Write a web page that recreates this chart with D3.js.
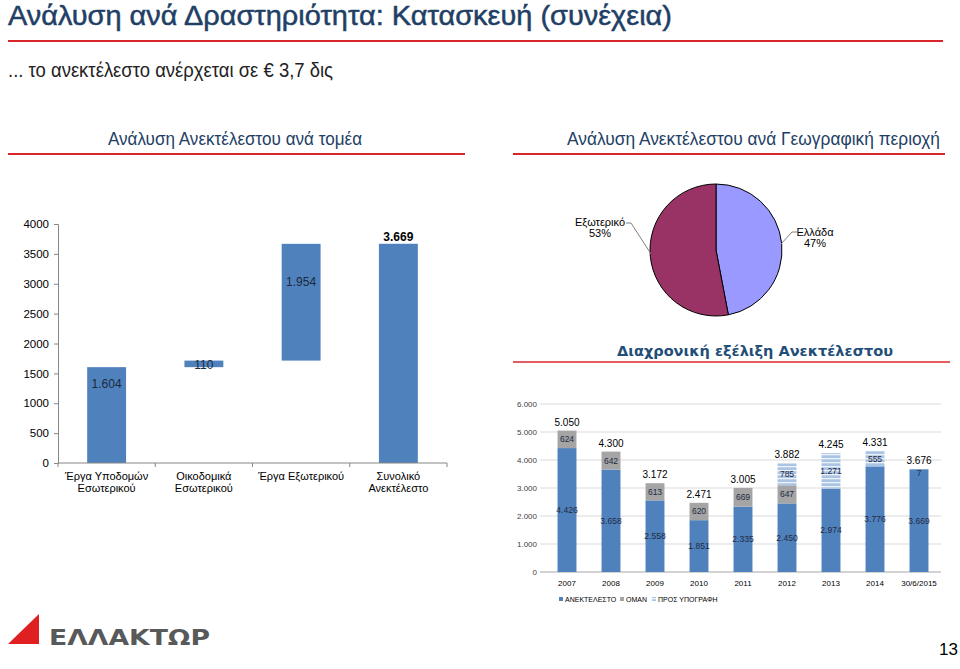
<!DOCTYPE html>
<html><head><meta charset="utf-8">
<script src="https://cdn.jsdelivr.net/npm/d3@7"></script>
<style>body{margin:0;background:#fff}svg{display:block}</style>
</head><body>
<svg id="c" width="960" height="669"></svg>
<script>
// ---- Waterfall data ----
const wfCategories = [["Έργα Υποδομών","Εσωτερικού"],["Οικοδομικά","Εσωτερικού"],["Έργα Εξωτερικού"],["Συνολικό","Ανεκτέλεστο"]];
const wfValues = [1604, 110, 1954, 3669];
const wfLabels = ["1.604","110","1.954","3.669"];
const wfTicks = [0,500,1000,1500,2000,2500,3000,3500,4000];

// ---- Pie data ----
const pieNames = ["Ελλάδα","Εξωτερικό"];
const pieValues = [47, 53];

// ---- Stacked data ----
const years = ["2007","2008","2009","2010","2011","2012","2013","2014","30/6/2015"];
const backlog = [4426,3658,2558,1851,2335,2450,2974,3776,3669];
const oman = [624,642,613,620,669,647,0,0,0];
const toSign = [0,0,0,0,0,785,1271,555,7];
const totals = ["5.050","4.300","3.172","2.471","3.005","3.882","4.245","4.331","3.676"];
const backlogLbl = ["4.426","3.658","2.558","1.851","2.335","2.450","2.974","3.776","3.669"];
const omanLbl = ["624","642","613","620","669","647","","",""];
const signLbl = ["","","","","","785","1.271","555","7"];
const stTicks = [0,1000,2000,3000,4000,5000,6000];
const legendNames = ["ΑΝΕΚΤΕΛΕΣΤΟ","ΟΜΑΝ","ΠΡΟΣ ΥΠΟΓΡΑΦΗ"];

const svg = d3.select("#c");
const navy = "#1F3F66", red = "#D9262B";
const blue = "#4F81BD";

// pattern
const defs = svg.append("defs");
const pat = defs.append("pattern").attr("id","stripe").attr("width",4).attr("height",4).attr("patternUnits","userSpaceOnUse");
pat.append("rect").attr("width",4).attr("height",4).attr("fill","#A9C4E4");
pat.append("rect").attr("y",2).attr("width",4).attr("height",1.3).attr("fill","#EEF3FA");

// ---- Titles ----
svg.append("text").attr("x",8).attr("y",25).attr("font-family","Liberation Sans Narrow, Liberation Sans, Arial").attr("font-size",28)
  .attr("fill",navy).attr("stroke",navy).attr("stroke-width",0.5).attr("textLength",664).attr("lengthAdjust","spacingAndGlyphs").text("Ανάλυση ανά Δραστηριότητα: Κατασκευή (συνέχεια)");
svg.append("line").attr("x1",8).attr("x2",943).attr("y1",41).attr("y2",41).attr("stroke",red).attr("stroke-width",2);
svg.append("text").attr("x",8).attr("y",77).attr("font-family","Liberation Sans Narrow, Liberation Sans, Arial").attr("font-size",20)
  .attr("fill","#222").attr("textLength",325).attr("lengthAdjust","spacingAndGlyphs").text("... το ανεκτέλεστο ανέρχεται σε € 3,7 δις");
svg.append("text").attr("x",108).attr("y",145).attr("font-family","Liberation Sans Narrow, Liberation Sans, Arial").attr("font-size",18)
  .attr("fill",navy).attr("textLength",254).attr("lengthAdjust","spacingAndGlyphs").text("Ανάλυση Ανεκτέλεστου ανά τομέα");
svg.append("line").attr("x1",8).attr("x2",465).attr("y1",154).attr("y2",154).attr("stroke",red).attr("stroke-width",2);
svg.append("text").attr("x",567).attr("y",145).attr("font-family","Liberation Sans Narrow, Liberation Sans, Arial").attr("font-size",18)
  .attr("fill",navy).attr("textLength",373).attr("lengthAdjust","spacingAndGlyphs").text("Ανάλυση Ανεκτέλεστου ανά Γεωγραφική περιοχή");
svg.append("line").attr("x1",513).attr("x2",945).attr("y1",154).attr("y2",154).attr("stroke",red).attr("stroke-width",2);

// ---- Waterfall ----
const wx = d3.scaleBand().domain(d3.range(wfValues.length)).range([58,447]).paddingInner(0.6).paddingOuter(0.3);
const wy = d3.scaleLinear().domain([0,4000]).range([463,224]);
let cum = 0;
const wfBars = wfValues.map((v,i)=>{
  let lo, hi;
  if (i === wfValues.length-1) { lo = 0; hi = v; } else { lo = cum; hi = cum + v; cum = hi; }
  return {i, lo, hi};
});
const wg = svg.append("g");
wg.selectAll("rect").data(wfBars).join("rect")
  .attr("x",d=>wx(d.i)).attr("width",wx.bandwidth())
  .attr("y",d=>wy(d.hi)).attr("height",d=>wy(d.lo)-wy(d.hi)).attr("fill",blue);
const wyAxis = d3.axisLeft(wy).tickValues(wfTicks).tickSize(4).tickFormat(d=>d);
const ya = wg.append("g").attr("transform","translate(58,0)").call(wyAxis);
ya.select(".domain").attr("stroke","#868686");
ya.selectAll(".tick line").attr("stroke","#868686");
ya.selectAll("text").attr("font-family","Liberation Sans, Arial").attr("font-size",11.5).attr("fill","#000").attr("x",-9);
// x axis
wg.append("line").attr("x1",58).attr("x2",447).attr("y1",463).attr("y2",463).attr("stroke","#868686");
const step = wx.step();
wg.selectAll(".xt").data(d3.range(wfValues.length+1)).join("line").attr("class","xt")
  .attr("x1",k=>58+k*step).attr("x2",k=>58+k*step).attr("y1",463).attr("y2",467).attr("stroke","#868686");
wfCategories.forEach((lines,i)=>{
  const t = wg.append("text").attr("text-anchor","middle").attr("font-family","Liberation Sans, Arial").attr("font-size",11).attr("fill","#000");
  lines.forEach((l,j)=>t.append("tspan").attr("x",wx(i)+wx.bandwidth()/2).attr("y",480+j*12).text(l));
});
// labels
wfBars.forEach((d,i)=>{
  const cx = wx(i)+wx.bandwidth()/2;
  let y, bold=false;
  if (i===0) y = wy(d.hi)+21;
  else if (i===1) y = wy(d.hi)+8;
  else if (i===2) y = wy(d.hi)+42;
  else { y = wy(d.hi)-3; bold=true; }
  wg.append("text").attr("x",cx).attr("y",y).attr("text-anchor","middle").attr("font-family","Liberation Sans, Arial")
    .attr("font-size",12).attr("font-weight",bold?"bold":"normal").attr("fill",bold?"#000":"#1a2a40").text(wfLabels[i]);
});

// ---- Pie ----
const pcx = 716, pcy = 250, pr = 66;
const pie = d3.pie().sort(null).value(d=>d)(pieValues);
const arc = d3.arc().innerRadius(0).outerRadius(pr);
const pg = svg.append("g").attr("transform",`translate(${pcx},${pcy})`);
const pieColors = ["#9999FF","#993366"];
pg.selectAll("path").data(pie).join("path").attr("d",arc).attr("fill",(d,i)=>pieColors[i]).attr("stroke","#000").attr("stroke-width",1);
// labels
const pl = svg.append("g").attr("font-family","Liberation Sans, Arial").attr("font-size",11).attr("fill","#000");
pl.append("text").attr("x",600).attr("y",226).attr("text-anchor","middle").text(pieNames[1]);
pl.append("text").attr("x",600).attr("y",237).attr("text-anchor","middle").text(pieValues[1]+"%");
pl.append("text").attr("x",815).attr("y",236).attr("text-anchor","middle").text(pieNames[0]);
pl.append("text").attr("x",815).attr("y",247).attr("text-anchor","middle").text(pieValues[0]+"%");
svg.append("polyline").attr("points","626,223 631,223 651,254").attr("fill","none").attr("stroke","#808080");
svg.append("polyline").attr("points","797,232 792,232 781,244").attr("fill","none").attr("stroke","#808080");

// ---- Stacked title ----
svg.append("text").attr("x",617).attr("y",356).attr("font-family","DejaVu Sans, Verdana").attr("font-size",14.5).attr("font-weight","bold")
  .attr("fill","#1F4E79").attr("textLength",276).attr("lengthAdjust","spacingAndGlyphs").text("Διαχρονική εξέλιξη Ανεκτέλεστου");
svg.append("line").attr("x1",513).attr("x2",950).attr("y1",362).attr("y2",362).attr("stroke",red).attr("stroke-width",1.5);

// ---- Stacked chart ----
const sx = d3.scaleBand().domain(years).range([545,941]).paddingInner(0.57).paddingOuter(0.285);
const sy = d3.scaleLinear().domain([0,6000]).range([572,404]);
const sg = svg.append("g");
sg.selectAll(".grid").data(stTicks).join("line").attr("class","grid")
  .attr("x1",540).attr("x2",941).attr("y1",d=>sy(d)).attr("y2",d=>sy(d)).attr("stroke",d=>d===0?"#A6A6A6":"#D9D9D9");
sg.selectAll(".yl").data(stTicks).join("text").attr("class","yl")
  .attr("x",537).attr("y",d=>sy(d)+3).attr("text-anchor","end").attr("font-family","Liberation Sans, Arial").attr("font-size",8).attr("fill","#404040")
  .text(d=>d3.format(",")(d).replace(",","."));
const stackData = years.map((y,i)=>({y, a:backlog[i], b:oman[i], c:toSign[i]}));
const series = d3.stack().keys(["a","b","c"])(stackData);
const fills = [blue, "#A5A5A5", "url(#stripe)"];
series.forEach((s,k)=>{
  sg.selectAll(".s"+k).data(s).join("rect").attr("class","s"+k)
    .attr("x",d=>sx(d.data.y)).attr("width",sx.bandwidth())
    .attr("y",d=>sy(d[1])).attr("height",d=>sy(d[0])-sy(d[1])).attr("fill",fills[k]);
});
const lblSets = [backlogLbl, omanLbl, signLbl];
series.forEach((s,k)=>{
  s.forEach((d,i)=>{
    const t = lblSets[k][i]; if(!t) return;
    let yy = (sy(d[0])+sy(d[1]))/2 + 3;
    if (k===2 && i===8) yy = sy(d[1]) + 7;
    sg.append("text").attr("x",sx(d.data.y)+sx.bandwidth()/2).attr("y",yy).attr("text-anchor","middle")
      .attr("font-family","Liberation Sans, Arial").attr("font-size",8.5).attr("fill","#1F2A44").text(t);
  });
});
stackData.forEach((d,i)=>{
  sg.append("text").attr("x",sx(d.y)+sx.bandwidth()/2).attr("y",sy(d.a+d.b+d.c)-5).attr("text-anchor","middle")
    .attr("font-family","Liberation Sans, Arial").attr("font-size",10).attr("fill","#000").text(totals[i]);
});
sg.selectAll(".xl").data(years).join("text").attr("class","xl")
  .attr("x",d=>sx(d)+sx.bandwidth()/2).attr("y",586).attr("text-anchor","middle")
  .attr("font-family","Liberation Sans, Arial").attr("font-size",8).attr("fill","#000").text(d=>d);
// legend
const legX = [559, 620, 652];
legendNames.forEach((n,i)=>{
  sg.append("rect").attr("x",legX[i]).attr("y",597).attr("width",4).attr("height",4).attr("fill",fills[i]);
  sg.append("text").attr("x",legX[i]+6).attr("y",602).attr("font-family","Liberation Sans, Arial").attr("font-size",7).attr("fill","#000").text(n);
});

// ---- Logo ----
svg.append("polygon").attr("points","8,644 39,614 39,644").attr("fill","#E02020");
svg.append("text").attr("x",49).attr("y",645).attr("font-family","DejaVu Sans, Liberation Sans").attr("font-weight","bold").attr("font-size",21)
  .attr("fill","#58595B").attr("textLength",161).attr("lengthAdjust","spacingAndGlyphs").text("ΕΛΛΑΚΤΩΡ");

// page number
svg.append("text").attr("x",958).attr("y",655).attr("text-anchor","end").attr("font-family","Liberation Sans, Arial").attr("font-size",17).attr("fill","#000").text("13");
</script>
</body></html>
